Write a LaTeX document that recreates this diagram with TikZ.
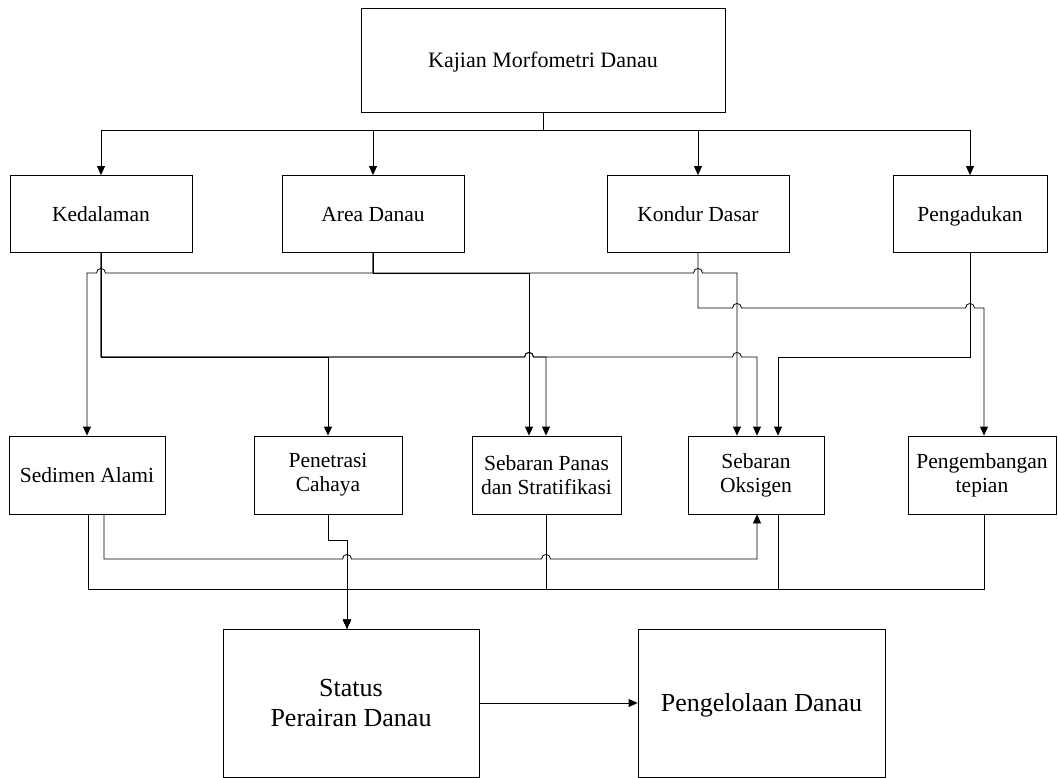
\documentclass[tikz,border=0pt]{standalone}
\usepackage{fontspec}
\setmainfont{Liberation Serif}
\usetikzlibrary{arrows.meta}
\begin{document}
\begin{tikzpicture}[x=1pt,y=-1pt,
  box/.style={draw, line width=0.8pt, inner sep=2pt, align=center, font=\fontsize{21.5}{24}\selectfont},
  onel/.style={text height=15pt, text depth=0pt},
  conn/.style={line width=0.8pt, line join=miter},
  arr/.style={conn, -{Triangle[length=9pt,width=8pt]}}]
\useasboundingbox (0,0) rectangle (1058,778);

% nodes
\node[box, onel, minimum width=364pt, minimum height=104pt, font=\fontsize{22}{25}\selectfont] (top) at (543,60) {Kajian Morfometri Danau};
\node[box, onel, minimum width=182pt, minimum height=77pt] (ked) at (101,214) {Kedalaman};
\node[box, onel, minimum width=182pt, minimum height=77pt] (area) at (373,214) {Area Danau};
\node[box, onel, minimum width=182pt, minimum height=77pt] (kond) at (698,214) {Kondur Dasar};
\node[box, onel, minimum width=154pt, minimum height=77pt] (peng) at (970,214) {Pengadukan};

\node[box, minimum width=156pt, minimum height=78pt] (sed) at (87,475) {Sedimen Alami};
\node[box, minimum width=148pt, minimum height=78pt] (pen) at (328,475) {Penetrasi\\Cahaya};
\node[box, minimum width=149pt, minimum height=78pt] (panas) at (546.5,475) {Sebaran Panas\\dan Stratifikasi};
\node[box, minimum width=136pt, minimum height=78pt] (oks) at (756,475) {Sebaran\\Oksigen};
\node[box, minimum width=148pt, minimum height=78pt] (tep) at (982,475) {Pengembangan\\tepian};

\node[box, minimum width=256pt, minimum height=148pt, font=\fontsize{26}{30}\selectfont] (status) at (351,703) {Status\\Perairan Danau};
\node[box, minimum width=247pt, minimum height=148pt, text height=17pt, text depth=1pt, font=\fontsize{26}{30}\selectfont] (kelola) at (761.5,703) {Pengelolaan Danau};

% top bus
\draw[arr] (top.south) -- (543,130) -| (ked.north);
\draw[arr] (top.south) -- (543,130) -| (area.north);
\draw[arr] (top.south) -- (543,130) -| (kond.north);
\draw[arr] (top.south) -- (543,130) -| (peng.north);

% Kedalaman
\draw[arr] (ked.south) -- (101,357) -| (pen.north);
\draw[arr] (ked.south) -- (101,357) -- (524.5,357) .. controls (524.5,351) and (533.5,351) .. (533.5,357) -- (546,357) -- (546,0 |- panas.north);
\draw[arr] (ked.south) -- (101,357) -- (524.5,357) .. controls (524.5,351) and (533.5,351) .. (533.5,357)
  -- (732.5,357) .. controls (732.5,351) and (741.5,351) .. (741.5,357) -- (757,357) -- (757,0 |- oks.north);

% Area Danau
\draw[arr] (area.south) -- (373,273) -- (105.5,273) .. controls (105.5,267) and (96.5,267) .. (96.5,273) -- (87,273) -- (87,0 |- sed.north);
\draw[arr] (area.south) -- (373,273) -- (529,273) -- (529,0 |- panas.north);
\draw[arr] (area.south) -- (373,273) -- (693.5,273) .. controls (693.5,267) and (702.5,267) .. (702.5,273) -- (737,273) -- (737,0 |- oks.north);

% Kondur Dasar
\draw[arr] (kond.south) -- (698,308) -- (732.5,308) .. controls (732.5,302) and (741.5,302) .. (741.5,308)
  -- (965.5,308) .. controls (965.5,302) and (974.5,302) .. (974.5,308) -- (984,308) -- (984,0 |- tep.north);

% Pengadukan
\draw[arr] (peng.south) -- (970,357) -- (778,357) -- (778,0 |- oks.north);

% bottom
\draw[arr] (104,0 |- sed.south) -- (104,559) -- (342.5,559) .. controls (342.5,553) and (351.5,553) .. (351.5,559)
  -- (541.5,559) .. controls (541.5,553) and (550.5,553) .. (550.5,559) -- (757,559) -- (757,0 |- oks.south);
\draw[arr] (88,0 |- sed.south) -- (88,589) -- (347,589) -- (347,0 |- status.north);
\draw[arr] (pen.south) -- (328,540) -- (347,540) -- (347,0 |- status.north);
\draw[arr] (546,0 |- panas.south) -- (546,589) -- (347,589) -- (347,0 |- status.north);
\draw[arr] (778,0 |- oks.south) -- (778,589) -- (347,589) -- (347,0 |- status.north);
\draw[arr] (984,0 |- tep.south) -- (984,589) -- (347,589) -- (347,0 |- status.north);

\draw[arr] (status.east) -- (kelola.west);
\end{tikzpicture}
\end{document}
